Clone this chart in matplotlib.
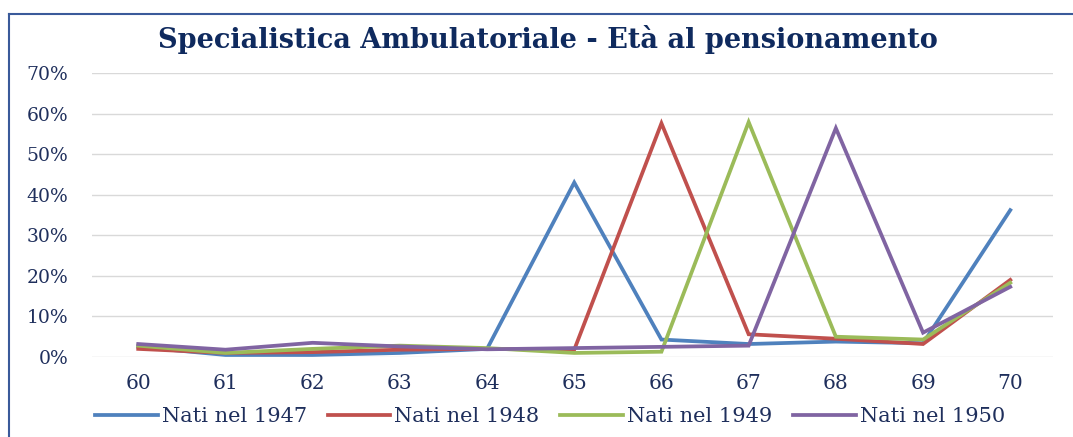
import matplotlib
matplotlib.use("Agg")
import matplotlib.pyplot as plt
from matplotlib.lines import Line2D

ages = [60, 61, 62, 63, 64, 65, 66, 67, 68, 69, 70]
series_names = ["Nati nel 1947", "Nati nel 1948", "Nati nel 1949", "Nati nel 1950"]
nati_1947 = [2.5, 0.5, 0.5, 1.0, 2.0, 43.0, 4.3, 3.2, 3.8, 3.4, 36.2]
nati_1948 = [2.0, 1.0, 1.2, 1.8, 2.0, 1.8, 57.6, 5.6, 4.5, 3.2, 19.0]
nati_1949 = [2.8, 1.0, 2.0, 2.8, 2.2, 1.0, 1.3, 57.9, 5.0, 4.3, 18.3]
nati_1950 = [3.2, 1.8, 3.5, 2.6, 1.9, 2.2, 2.5, 2.8, 56.4, 6.0, 17.3]
y_ticks = [0, 10, 20, 30, 40, 50, 60, 70]
title = "Specialistica Ambulatoriale - Età al pensionamento"

colors = ["#4F81BD", "#C0504D", "#9BBB59", "#8064A2"]
navy = "#1F2F5C"

plt.rcParams['font.family'] = ['DejaVu Serif']

fig = plt.figure(figsize=(10.73, 4.37), dpi=100)
ax = fig.add_axes([92/1073, 1-357/437, (1053-92)/1073, (357-73)/437])

for vals, c, name in zip([nati_1947, nati_1948, nati_1949, nati_1950], colors, series_names):
    ax.plot(ages, vals, color=c, lw=2.7, label=name, solid_joinstyle='miter')

ax.set_xlim(59.47, 70.49)
ax.set_ylim(0, 70)
ax.set_yticks(y_ticks)
ax.set_yticklabels([f"{v}%" for v in y_ticks], fontsize=13.5, color=navy)
ax.set_xticks(ages)
ax.set_xticklabels([str(a) for a in ages], fontsize=14.5, color=navy)
ax.tick_params(axis='both', length=0)
ax.tick_params(axis='y', pad=17)
ax.tick_params(axis='x', pad=12)
ax.grid(axis='y', color='#D9D9D9', lw=1)
ax.set_axisbelow(True)
for s in ax.spines.values():
    s.set_visible(False)

fig.text(548/1073, 1-40/437, title, ha='center', va='center', fontsize=19.5,
         fontweight='bold', color="#0F2A5E")

handles = [Line2D([0], [0], color=c, lw=2.7) for c in colors]
fig.legend(handles, series_names, loc='center', bbox_to_anchor=(550/1073, 1-417/437),
           ncol=4, frameon=False, fontsize=15, handlelength=3.0, handletextpad=0.2,
           columnspacing=1.0, labelcolor=navy)

# frame (top and left edges visible)
fig.add_artist(Line2D([9/1073, 1], [1-14/437, 1-14/437], color="#3A5A9A", lw=1.5,
                      transform=fig.transFigure))
fig.add_artist(Line2D([9/1073, 9/1073], [0, 1-14/437], color="#3A5A9A", lw=1.5,
                      transform=fig.transFigure))

fig.savefig("out.png", dpi=100)
